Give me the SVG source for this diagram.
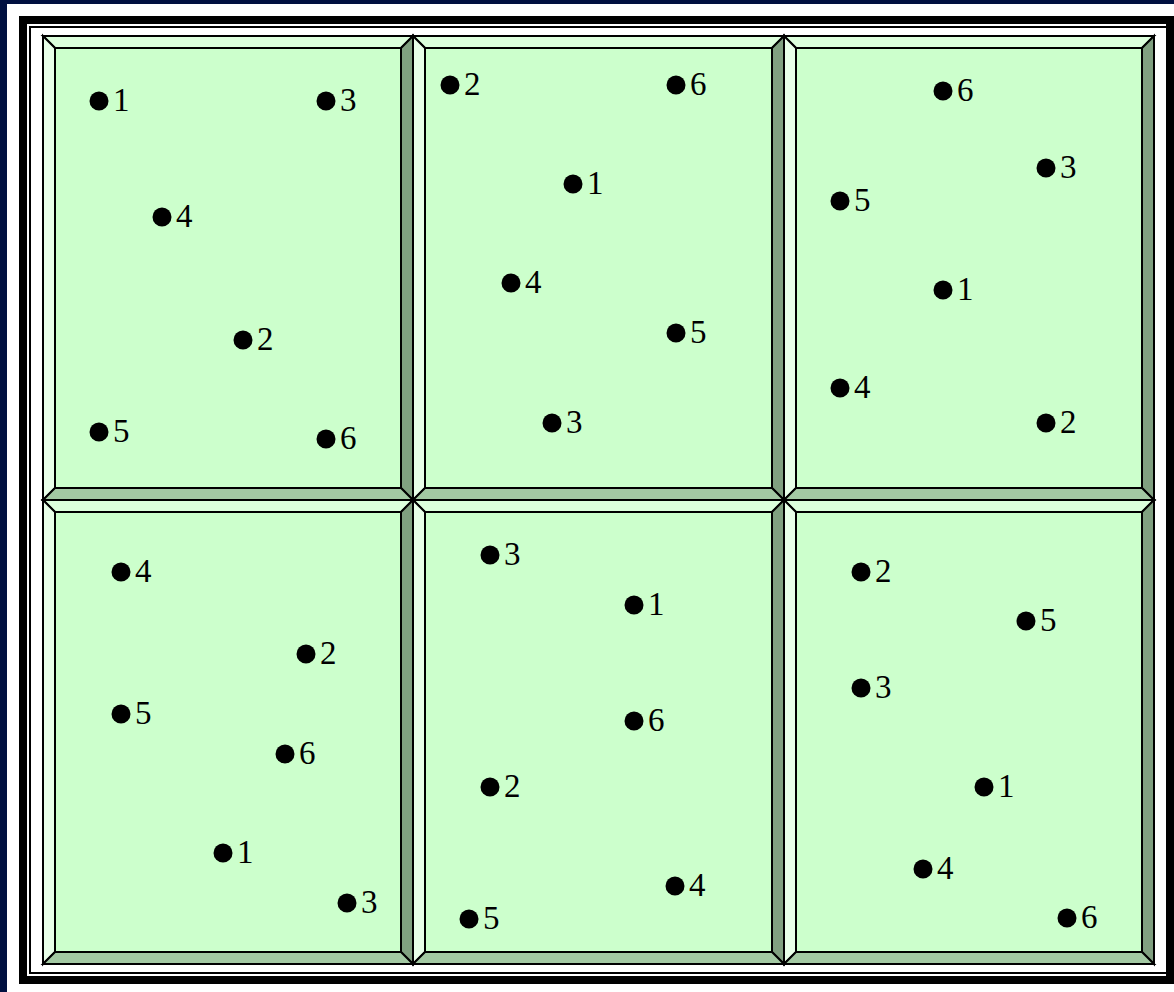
<svg xmlns="http://www.w3.org/2000/svg" width="1174" height="992" viewBox="0 0 1174 992">
<style>
.bv{stroke:#000;stroke-width:2;stroke-linejoin:miter}
.t{fill:#DCFFDC}
.l{fill:#E8FFE8}
.r{fill:#80A080}
.b{fill:#A3C9A3}
.in{fill:#CCFFCC;stroke:#000;stroke-width:2}
.dot{fill:#000}
.lb{font-family:'Liberation Serif','Times New Roman',Times,serif;font-size:33px;fill:#000}
</style>
<rect x="0" y="0" width="1174" height="992" fill="#001040"/>
<rect x="7" y="4" width="1180" height="1000" fill="#fff"/>
<rect x="23" y="20" width="1147" height="960" fill="none" stroke="#000" stroke-width="8"/>
<rect x="30" y="27" width="1137" height="946" fill="none" stroke="#000" stroke-width="2"/>

<g id="cell1">
<polygon class="bv t" points="43,36 413,36 401,48 55,48"/>
<polygon class="bv l" points="43,36 55,48 55,488 43,500"/>
<polygon class="bv r" points="413,36 413,500 401,488 401,48"/>
<polygon class="bv b" points="43,500 413,500 401,488 55,488"/>
<rect class="in" x="55" y="48" width="346" height="440"/>
<g id="c1p1"><circle class="dot" cx="99" cy="101" r="9.5"/><text class="lb" x="113" y="111">1</text></g>
<g id="c1p3"><circle class="dot" cx="326" cy="101" r="9.5"/><text class="lb" x="340" y="111">3</text></g>
<g id="c1p4"><circle class="dot" cx="162" cy="217" r="9.5"/><text class="lb" x="176" y="227">4</text></g>
<g id="c1p2"><circle class="dot" cx="243" cy="340" r="9.5"/><text class="lb" x="257" y="350">2</text></g>
<g id="c1p5"><circle class="dot" cx="99" cy="432" r="9.5"/><text class="lb" x="113" y="442">5</text></g>
<g id="c1p6"><circle class="dot" cx="326" cy="439" r="9.5"/><text class="lb" x="340" y="449">6</text></g>
</g>

<g id="cell2">
<polygon class="bv t" points="413,36 784,36 772,48 425,48"/>
<polygon class="bv l" points="413,36 425,48 425,488 413,500"/>
<polygon class="bv r" points="784,36 784,500 772,488 772,48"/>
<polygon class="bv b" points="413,500 784,500 772,488 425,488"/>
<rect class="in" x="425" y="48" width="347" height="440"/>
<g id="c2p2"><circle class="dot" cx="450" cy="85" r="9.5"/><text class="lb" x="464" y="95">2</text></g>
<g id="c2p6"><circle class="dot" cx="676" cy="85" r="9.5"/><text class="lb" x="690" y="95">6</text></g>
<g id="c2p1"><circle class="dot" cx="573" cy="184" r="9.5"/><text class="lb" x="587" y="194">1</text></g>
<g id="c2p4"><circle class="dot" cx="511" cy="283" r="9.5"/><text class="lb" x="525" y="293">4</text></g>
<g id="c2p5"><circle class="dot" cx="676" cy="333" r="9.5"/><text class="lb" x="690" y="343">5</text></g>
<g id="c2p3"><circle class="dot" cx="552" cy="423" r="9.5"/><text class="lb" x="566" y="433">3</text></g>
</g>

<g id="cell3">
<polygon class="bv t" points="784,36 1154,36 1142,48 796,48"/>
<polygon class="bv l" points="784,36 796,48 796,488 784,500"/>
<polygon class="bv r" points="1154,36 1154,500 1142,488 1142,48"/>
<polygon class="bv b" points="784,500 1154,500 1142,488 796,488"/>
<rect class="in" x="796" y="48" width="346" height="440"/>
<g id="c3p6"><circle class="dot" cx="943" cy="91" r="9.5"/><text class="lb" x="957" y="101">6</text></g>
<g id="c3p3"><circle class="dot" cx="1046" cy="168" r="9.5"/><text class="lb" x="1060" y="178">3</text></g>
<g id="c3p5"><circle class="dot" cx="840" cy="201" r="9.5"/><text class="lb" x="854" y="211">5</text></g>
<g id="c3p1"><circle class="dot" cx="943" cy="290" r="9.5"/><text class="lb" x="957" y="300">1</text></g>
<g id="c3p4"><circle class="dot" cx="840" cy="388" r="9.5"/><text class="lb" x="854" y="398">4</text></g>
<g id="c3p2"><circle class="dot" cx="1046" cy="423" r="9.5"/><text class="lb" x="1060" y="433">2</text></g>
</g>

<g id="cell4">
<polygon class="bv t" points="43,500 413,500 401,512 55,512"/>
<polygon class="bv l" points="43,500 55,512 55,952 43,964"/>
<polygon class="bv r" points="413,500 413,964 401,952 401,512"/>
<polygon class="bv b" points="43,964 413,964 401,952 55,952"/>
<rect class="in" x="55" y="512" width="346" height="440"/>
<g id="c4p4"><circle class="dot" cx="121" cy="572" r="9.5"/><text class="lb" x="135" y="582">4</text></g>
<g id="c4p2"><circle class="dot" cx="306" cy="654" r="9.5"/><text class="lb" x="320" y="664">2</text></g>
<g id="c4p5"><circle class="dot" cx="121" cy="714" r="9.5"/><text class="lb" x="135" y="724">5</text></g>
<g id="c4p6"><circle class="dot" cx="285" cy="754" r="9.5"/><text class="lb" x="299" y="764">6</text></g>
<g id="c4p1"><circle class="dot" cx="223" cy="853" r="9.5"/><text class="lb" x="237" y="863">1</text></g>
<g id="c4p3"><circle class="dot" cx="347" cy="903" r="9.5"/><text class="lb" x="361" y="913">3</text></g>
</g>

<g id="cell5">
<polygon class="bv t" points="413,500 784,500 772,512 425,512"/>
<polygon class="bv l" points="413,500 425,512 425,952 413,964"/>
<polygon class="bv r" points="784,500 784,964 772,952 772,512"/>
<polygon class="bv b" points="413,964 784,964 772,952 425,952"/>
<rect class="in" x="425" y="512" width="347" height="440"/>
<g id="c5p3"><circle class="dot" cx="490" cy="555" r="9.5"/><text class="lb" x="504" y="565">3</text></g>
<g id="c5p1"><circle class="dot" cx="634" cy="605" r="9.5"/><text class="lb" x="648" y="615">1</text></g>
<g id="c5p6"><circle class="dot" cx="634" cy="721" r="9.5"/><text class="lb" x="648" y="731">6</text></g>
<g id="c5p2"><circle class="dot" cx="490" cy="787" r="9.5"/><text class="lb" x="504" y="797">2</text></g>
<g id="c5p4"><circle class="dot" cx="675" cy="886" r="9.5"/><text class="lb" x="689" y="896">4</text></g>
<g id="c5p5"><circle class="dot" cx="469" cy="919" r="9.5"/><text class="lb" x="483" y="929">5</text></g>
</g>

<g id="cell6">
<polygon class="bv t" points="784,500 1154,500 1142,512 796,512"/>
<polygon class="bv l" points="784,500 796,512 796,952 784,964"/>
<polygon class="bv r" points="1154,500 1154,964 1142,952 1142,512"/>
<polygon class="bv b" points="784,964 1154,964 1142,952 796,952"/>
<rect class="in" x="796" y="512" width="346" height="440"/>
<g id="c6p2"><circle class="dot" cx="861" cy="572" r="9.5"/><text class="lb" x="875" y="582">2</text></g>
<g id="c6p5"><circle class="dot" cx="1026" cy="621" r="9.5"/><text class="lb" x="1040" y="631">5</text></g>
<g id="c6p3"><circle class="dot" cx="861" cy="688" r="9.5"/><text class="lb" x="875" y="698">3</text></g>
<g id="c6p1"><circle class="dot" cx="984" cy="787" r="9.5"/><text class="lb" x="998" y="797">1</text></g>
<g id="c6p4"><circle class="dot" cx="923" cy="869" r="9.5"/><text class="lb" x="937" y="879">4</text></g>
<g id="c6p6"><circle class="dot" cx="1067" cy="918" r="9.5"/><text class="lb" x="1081" y="928">6</text></g>
</g>
</svg>
